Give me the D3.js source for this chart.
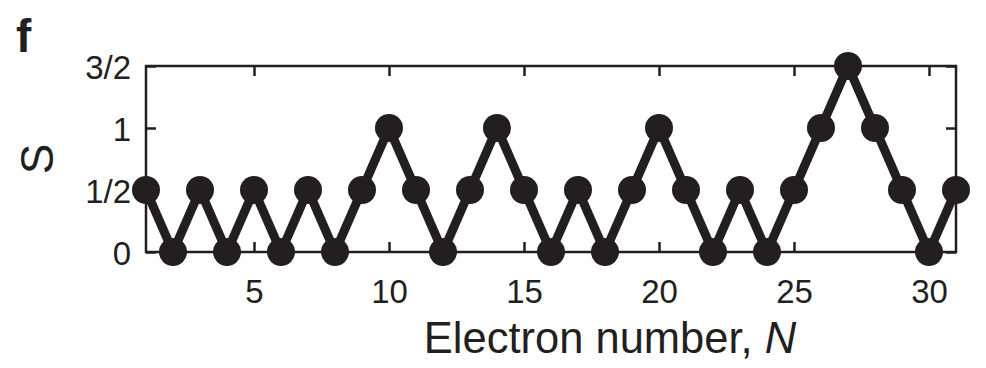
<!DOCTYPE html>
<html><head><meta charset="utf-8">
<script src="https://cdn.jsdelivr.net/npm/d3@7"></script>
<style>body{margin:0;background:#fff}svg{display:block}text{font-family:"Liberation Sans",Arial,sans-serif;fill:#231f20}</style>
</head><body>
<svg id="c" width="986" height="368"></svg>
<script>
const electronN = [1,2,3,4,5,6,7,8,9,10,11,12,13,14,15,16,17,18,19,20,21,22,23,24,25,26,27,28,29,30,31];
const spinS = [0.5,0,0.5,0,0.5,0,0.5,0,0.5,1,0.5,0,0.5,1,0.5,0,0.5,0,0.5,1,0.5,0,0.5,0,0.5,1,1.5,1,0.5,0,0.5];
const xTicks = [5,10,15,20,25,30];
const yTicks = [0,0.5,1,1.5];
const yTickLabels = ["0","1/2","1","3/2"];

const col = "#231f20";
const svg = d3.select("#c");
const L=146,R=956,T=66,B=252;
const x = d3.scaleLinear().domain([1,31]).range([L,R]);
const y = d3.scaleLinear().domain([0,1.5]).range([B,T]);

// frame
svg.append("rect").attr("x",L).attr("y",T).attr("width",R-L).attr("height",B-T)
  .attr("fill","none").attr("stroke",col).attr("stroke-width",2.5);

const tl = 10;
const gx = svg.append("g").attr("transform",`translate(0,${B})`)
  .call(d3.axisBottom(x).tickValues(xTicks).tickSize(-tl).tickPadding(0).tickFormat(d3.format("d")));
const gxt = svg.append("g").attr("transform",`translate(0,${T})`)
  .call(d3.axisTop(x).tickValues(xTicks).tickSize(-tl).tickFormat(""));
const gy = svg.append("g").attr("transform",`translate(${L},0)`)
  .call(d3.axisLeft(y).tickValues(yTicks).tickSize(-tl).tickPadding(0).tickFormat((d,i)=>yTickLabels[i]));
const gyr = svg.append("g").attr("transform",`translate(${R},0)`)
  .call(d3.axisRight(y).tickValues(yTicks).tickSize(-tl).tickFormat(""));
[gx,gxt,gy,gyr].forEach(g=>{
  g.select(".domain").remove();
  g.selectAll(".tick line").attr("stroke",col).attr("stroke-width",2.5);
});
gx.selectAll(".tick text").attr("y",51).attr("dy",0).attr("font-size",33).attr("fill",col)
  .style("font-family","'Liberation Sans',Arial,sans-serif");
gy.selectAll(".tick text").attr("x",-15).attr("dy","0.38em").attr("font-size",33).attr("fill",col)
  .style("font-family","'Liberation Sans',Arial,sans-serif");

// line + dots
const pts = electronN.map((n,i)=>[n,spinS[i]]);
svg.append("path").datum(pts)
  .attr("d",d3.line().x(d=>x(d[0])).y(d=>y(d[1])))
  .attr("fill","none").attr("stroke",col).attr("stroke-width",9).attr("stroke-linejoin","round");
svg.append("g").selectAll("circle").data(pts).join("circle")
  .attr("cx",d=>x(d[0])).attr("cy",d=>y(d[1])).attr("r",14).attr("fill",col);

// labels
const xl = svg.append("text").attr("x",610).attr("y",353).attr("text-anchor","middle").attr("font-size",43.5);
xl.append("tspan").text("Electron number, ");
xl.append("tspan").attr("font-style","italic").text("N");
svg.append("text").attr("transform","translate(53,159) rotate(-90)").attr("text-anchor","middle")
  .attr("font-size",46).text("S");
svg.append("text").attr("x",16).attr("y",52).attr("font-size",46).attr("font-weight","bold").text("f");
</script>
</body></html>
